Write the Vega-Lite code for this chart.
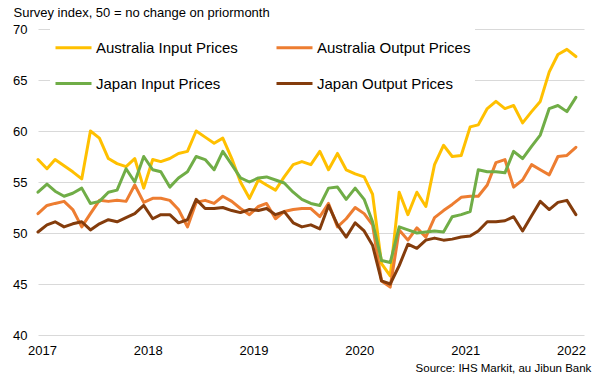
{
  "$schema": "https://vega.github.io/schema/vega-lite/v6.json",
  "autosize": {"type": "none"},
  "width": 546,
  "height": 306,
  "padding": {"left": 38, "top": 29, "right": 14, "bottom": 48},
  "background": "white",
  "config": {
    "view": {"stroke": null},
    "font": "Liberation Sans"
  },
  "title": {
    "text": "Source: IHS Markit, au Jibun Bank",
    "orient": "bottom",
    "anchor": "end",
    "fontSize": 11.5,
    "fontWeight": "normal",
    "font": "Liberation Sans",
    "color": "#000000",
    "offset": 6,
    "dx": 6
  },
  "data": {
    "values": [
      {"m": "2017-01-01", "Australia Input Prices": 57.2, "Australia Output Prices": 51.9, "Japan Input Prices": 54.0, "Japan Output Prices": 50.1},
      {"m": "2017-02-01", "Australia Input Prices": 56.3, "Australia Output Prices": 52.7, "Japan Input Prices": 54.8, "Japan Output Prices": 50.8},
      {"m": "2017-03-01", "Australia Input Prices": 57.2, "Australia Output Prices": 52.9, "Japan Input Prices": 54.1, "Japan Output Prices": 51.1},
      {"m": "2017-04-01", "Australia Input Prices": 56.6, "Australia Output Prices": 53.1, "Japan Input Prices": 53.6, "Japan Output Prices": 50.6},
      {"m": "2017-05-01", "Australia Input Prices": 56.0, "Australia Output Prices": 52.3, "Japan Input Prices": 53.9, "Japan Output Prices": 50.9},
      {"m": "2017-06-01", "Australia Input Prices": 55.3, "Australia Output Prices": 50.6, "Japan Input Prices": 54.4, "Japan Output Prices": 51.1},
      {"m": "2017-07-01", "Australia Input Prices": 60.0, "Australia Output Prices": 51.9, "Japan Input Prices": 52.9, "Japan Output Prices": 50.3},
      {"m": "2017-08-01", "Australia Input Prices": 59.3, "Australia Output Prices": 53.2, "Japan Input Prices": 53.1, "Japan Output Prices": 50.9},
      {"m": "2017-09-01", "Australia Input Prices": 57.3, "Australia Output Prices": 53.1, "Japan Input Prices": 54.0, "Japan Output Prices": 51.3},
      {"m": "2017-10-01", "Australia Input Prices": 56.8, "Australia Output Prices": 53.2, "Japan Input Prices": 54.2, "Japan Output Prices": 51.1},
      {"m": "2017-11-01", "Australia Input Prices": 56.5, "Australia Output Prices": 53.1, "Japan Input Prices": 56.3, "Japan Output Prices": 51.5},
      {"m": "2017-12-01", "Australia Input Prices": 57.3, "Australia Output Prices": 54.7, "Japan Input Prices": 55.0, "Japan Output Prices": 51.9},
      {"m": "2018-01-01", "Australia Input Prices": 54.4, "Australia Output Prices": 53.0, "Japan Input Prices": 57.5, "Japan Output Prices": 52.7},
      {"m": "2018-02-01", "Australia Input Prices": 57.2, "Australia Output Prices": 53.4, "Japan Input Prices": 56.2, "Japan Output Prices": 51.4},
      {"m": "2018-03-01", "Australia Input Prices": 57.0, "Australia Output Prices": 53.4, "Japan Input Prices": 56.0, "Japan Output Prices": 51.8},
      {"m": "2018-04-01", "Australia Input Prices": 57.3, "Australia Output Prices": 53.2, "Japan Input Prices": 54.5, "Japan Output Prices": 51.8},
      {"m": "2018-05-01", "Australia Input Prices": 57.8, "Australia Output Prices": 52.3, "Japan Input Prices": 55.4, "Japan Output Prices": 51.0},
      {"m": "2018-06-01", "Australia Input Prices": 58.0, "Australia Output Prices": 50.6, "Japan Input Prices": 56.0, "Japan Output Prices": 51.3},
      {"m": "2018-07-01", "Australia Input Prices": 60.0, "Australia Output Prices": 53.0, "Japan Input Prices": 57.5, "Japan Output Prices": 53.3},
      {"m": "2018-08-01", "Australia Input Prices": 59.4, "Australia Output Prices": 53.2, "Japan Input Prices": 57.2, "Japan Output Prices": 52.4},
      {"m": "2018-09-01", "Australia Input Prices": 58.8, "Australia Output Prices": 52.9, "Japan Input Prices": 56.2, "Japan Output Prices": 52.4},
      {"m": "2018-10-01", "Australia Input Prices": 59.3, "Australia Output Prices": 53.6, "Japan Input Prices": 58.0, "Japan Output Prices": 52.5},
      {"m": "2018-11-01", "Australia Input Prices": 57.3, "Australia Output Prices": 53.1, "Japan Input Prices": 56.7, "Japan Output Prices": 52.2},
      {"m": "2018-12-01", "Australia Input Prices": 55.0, "Australia Output Prices": 52.4, "Japan Input Prices": 55.4, "Japan Output Prices": 52.0},
      {"m": "2019-01-01", "Australia Input Prices": 53.4, "Australia Output Prices": 51.8, "Japan Input Prices": 55.0, "Japan Output Prices": 52.3},
      {"m": "2019-02-01", "Australia Input Prices": 55.2, "Australia Output Prices": 52.6, "Japan Input Prices": 55.4, "Japan Output Prices": 52.2},
      {"m": "2019-03-01", "Australia Input Prices": 54.7, "Australia Output Prices": 52.9, "Japan Input Prices": 55.5, "Japan Output Prices": 52.4},
      {"m": "2019-04-01", "Australia Input Prices": 54.2, "Australia Output Prices": 51.4, "Japan Input Prices": 55.2, "Japan Output Prices": 51.8},
      {"m": "2019-05-01", "Australia Input Prices": 55.5, "Australia Output Prices": 52.1, "Japan Input Prices": 54.9, "Japan Output Prices": 52.1},
      {"m": "2019-06-01", "Australia Input Prices": 56.7, "Australia Output Prices": 52.3, "Japan Input Prices": 54.0, "Japan Output Prices": 51.0},
      {"m": "2019-07-01", "Australia Input Prices": 57.0, "Australia Output Prices": 52.4, "Japan Input Prices": 53.3, "Japan Output Prices": 50.6},
      {"m": "2019-08-01", "Australia Input Prices": 56.7, "Australia Output Prices": 52.4, "Japan Input Prices": 52.9, "Japan Output Prices": 50.8},
      {"m": "2019-09-01", "Australia Input Prices": 58.0, "Australia Output Prices": 51.6, "Japan Input Prices": 52.7, "Japan Output Prices": 50.4},
      {"m": "2019-10-01", "Australia Input Prices": 56.2, "Australia Output Prices": 52.9, "Japan Input Prices": 54.4, "Japan Output Prices": 52.7},
      {"m": "2019-11-01", "Australia Input Prices": 57.8, "Australia Output Prices": 50.6, "Japan Input Prices": 54.5, "Japan Output Prices": 50.8},
      {"m": "2019-12-01", "Australia Input Prices": 56.2, "Australia Output Prices": 51.4, "Japan Input Prices": 53.3, "Japan Output Prices": 49.6},
      {"m": "2020-01-01", "Australia Input Prices": 55.8, "Australia Output Prices": 52.5, "Japan Input Prices": 54.4, "Japan Output Prices": 51.0},
      {"m": "2020-02-01", "Australia Input Prices": 55.5, "Australia Output Prices": 51.9, "Japan Input Prices": 53.3, "Japan Output Prices": 50.2},
      {"m": "2020-03-01", "Australia Input Prices": 53.8, "Australia Output Prices": 50.8, "Japan Input Prices": 51.1, "Japan Output Prices": 48.8},
      {"m": "2020-04-01", "Australia Input Prices": 47.0, "Australia Output Prices": 45.3, "Japan Input Prices": 47.3, "Japan Output Prices": 45.3},
      {"m": "2020-05-01", "Australia Input Prices": 45.8, "Australia Output Prices": 44.7, "Japan Input Prices": 47.1, "Japan Output Prices": 45.0},
      {"m": "2020-06-01", "Australia Input Prices": 54.0, "Australia Output Prices": 50.3, "Japan Input Prices": 50.6, "Japan Output Prices": 46.8},
      {"m": "2020-07-01", "Australia Input Prices": 51.8, "Australia Output Prices": 49.3, "Japan Input Prices": 50.3, "Japan Output Prices": 48.9},
      {"m": "2020-08-01", "Australia Input Prices": 54.0, "Australia Output Prices": 50.5, "Japan Input Prices": 50.0, "Japan Output Prices": 48.5},
      {"m": "2020-09-01", "Australia Input Prices": 52.6, "Australia Output Prices": 49.6, "Japan Input Prices": 50.1, "Japan Output Prices": 49.3},
      {"m": "2020-10-01", "Australia Input Prices": 56.7, "Australia Output Prices": 51.5, "Japan Input Prices": 50.2, "Japan Output Prices": 49.5},
      {"m": "2020-11-01", "Australia Input Prices": 58.6, "Australia Output Prices": 52.2, "Japan Input Prices": 50.1, "Japan Output Prices": 49.3},
      {"m": "2020-12-01", "Australia Input Prices": 57.5, "Australia Output Prices": 52.8, "Japan Input Prices": 51.6, "Japan Output Prices": 49.4},
      {"m": "2021-01-01", "Australia Input Prices": 57.6, "Australia Output Prices": 53.5, "Japan Input Prices": 51.8, "Japan Output Prices": 49.6},
      {"m": "2021-02-01", "Australia Input Prices": 60.4, "Australia Output Prices": 53.6, "Japan Input Prices": 52.1, "Japan Output Prices": 49.7},
      {"m": "2021-03-01", "Australia Input Prices": 60.6, "Australia Output Prices": 53.6, "Japan Input Prices": 56.2, "Japan Output Prices": 50.2},
      {"m": "2021-04-01", "Australia Input Prices": 62.2, "Australia Output Prices": 54.7, "Japan Input Prices": 56.0, "Japan Output Prices": 51.1},
      {"m": "2021-05-01", "Australia Input Prices": 62.9, "Australia Output Prices": 56.9, "Japan Input Prices": 56.0, "Japan Output Prices": 51.1},
      {"m": "2021-06-01", "Australia Input Prices": 62.2, "Australia Output Prices": 57.2, "Japan Input Prices": 55.9, "Japan Output Prices": 51.2},
      {"m": "2021-07-01", "Australia Input Prices": 62.5, "Australia Output Prices": 54.5, "Japan Input Prices": 58.0, "Japan Output Prices": 51.6},
      {"m": "2021-08-01", "Australia Input Prices": 60.8, "Australia Output Prices": 55.2, "Japan Input Prices": 57.3, "Japan Output Prices": 50.2},
      {"m": "2021-09-01", "Australia Input Prices": 61.9, "Australia Output Prices": 56.7, "Japan Input Prices": 58.5, "Japan Output Prices": 51.7},
      {"m": "2021-10-01", "Australia Input Prices": 62.9, "Australia Output Prices": 56.2, "Japan Input Prices": 59.6, "Japan Output Prices": 53.1},
      {"m": "2021-11-01", "Australia Input Prices": 65.8, "Australia Output Prices": 55.7, "Japan Input Prices": 62.2, "Japan Output Prices": 52.3},
      {"m": "2021-12-01", "Australia Input Prices": 67.5, "Australia Output Prices": 57.5, "Japan Input Prices": 62.5, "Japan Output Prices": 53.0},
      {"m": "2022-01-01", "Australia Input Prices": 68.0, "Australia Output Prices": 57.6, "Japan Input Prices": 61.9, "Japan Output Prices": 53.2},
      {"m": "2022-02-01", "Australia Input Prices": 67.3, "Australia Output Prices": 58.4, "Japan Input Prices": 63.3, "Japan Output Prices": 51.8}
    ]
  },
  "transform": [
    {"fold": ["Australia Input Prices", "Australia Output Prices", "Japan Input Prices", "Japan Output Prices"], "as": ["series", "value"]}
  ],
  "mark": {"type": "line", "strokeWidth": 3, "strokeJoin": "round", "strokeCap": "round"},
  "encoding": {
    "x": {
      "field": "m",
      "type": "temporal",
      "scale": {"type": "utc", "domain": [{"year": 2017, "month": 1, "date": 1, "utc": true}, {"year": 2022, "month": 3, "date": 1, "utc": true}]},
      "axis": {
        "title": null,
        "format": "%Y",
        "tickCount": {"interval": "year", "step": 1},
        "grid": false,
        "domain": false,
        "ticks": false,
        "labelFontSize": 13,
        "labelColor": "#000000",
        "labelPadding": 9,
        "labelOffset": 4,
        "labelFont": "Liberation Sans",
        "labelFlush": false,
        "labelOverlap": false
      }
    },
    "y": {
      "field": "value",
      "type": "quantitative",
      "scale": {"domain": [40, 70], "nice": false, "zero": false},
      "axis": {
        "values": [40, 45, 50, 55, 60, 65, 70],
        "title": "Survey index, 50 = no change on priormonth",
        "titleAngle": 0,
        "titleAlign": "left",
        "titleBaseline": "middle",
        "titleX": -25,
        "titleY": -17,
        "titleFontSize": 13,
        "titleFontWeight": "normal",
        "titleFont": "Liberation Sans",
        "titleColor": "#000000",
        "grid": true,
        "gridColor": "#D9D9D9",
        "gridWidth": 1,
        "domain": false,
        "ticks": false,
        "labelFontSize": 13,
        "labelColor": "#000000",
        "labelPadding": 11,
        "labelFont": "Liberation Sans"
      }
    },
    "color": {
      "field": "series",
      "type": "nominal",
      "scale": {
        "domain": ["Australia Input Prices", "Japan Input Prices", "Australia Output Prices", "Japan Output Prices"],
        "range": ["#FFC000", "#70AD47", "#ED7D31", "#843C0C"]
      },
      "legend": {
        "title": null,
        "orient": "none",
        "legendX": 12,
        "legendY": -5,
        "columns": 2,
        "symbolType": "stroke",
        "symbolSize": 1296,
        "symbolStrokeWidth": 3,
        "labelFontSize": 15,
        "labelFont": "Liberation Sans",
        "labelColor": "#000000",
        "labelOffset": 3,
        "labelLimit": 300,
        "columnPadding": 32,
        "rowPadding": 8,
        "fillColor": "white",
        "padding": 4
      }
    }
  }
}
